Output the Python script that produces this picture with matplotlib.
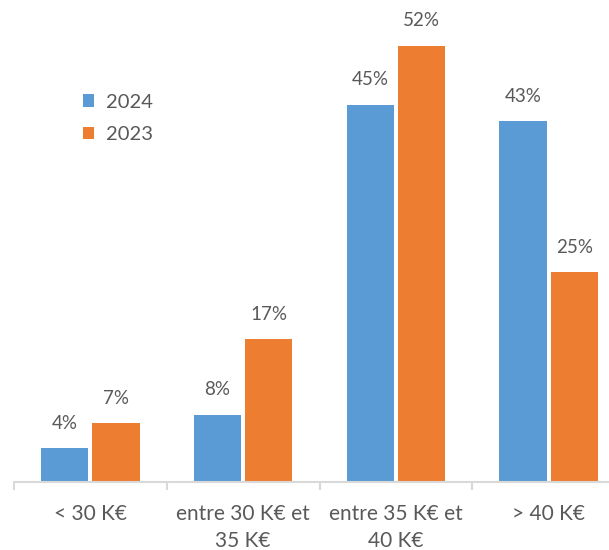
import matplotlib.pyplot as plt
import numpy as np

categories = ["< 30 K€", "entre 30 K€ et\n35 K€", "entre 35 K€ et\n40 K€", "> 40 K€"]
series_names = ["2024", "2023"]
values_2024 = [4, 8, 45, 43]
values_2023 = [7, 17, 52, 25]

plt.rcParams['font.family'] = ['Lato', 'DejaVu Sans']
text_color = "#595959"
colors = ["#5B9BD5", "#ED7D31"]

fig = plt.figure(figsize=(6.09, 5.5), dpi=100)
# axis extends a bit past the right edge like the original screenshot
ax = fig.add_axes([14/609, 68/550, 611/609, 462/550])

x = np.arange(len(categories))
w = 0.31
gap = 0.013
for i, (vals, name) in enumerate(zip([values_2024, values_2023], series_names)):
    offs = -(w/2 + gap) if i == 0 else (w/2 + gap)
    bars = ax.bar(x + offs, vals, w, color=colors[i], label=name)
    for b, v in zip(bars, vals):
        ax.annotate(f"{v}%", (b.get_x() + b.get_width()/2, v), xytext=(0, 12),
                    textcoords="offset points", ha="center", va="bottom",
                    fontsize=13.5, color=text_color)

ax.set_xlim(-0.5, len(categories) - 0.5)
ax.set_ylim(0, 55.1)
ax.set_yticks([])
for s in ["top", "right", "left"]:
    ax.spines[s].set_visible(False)
ax.spines["bottom"].set_color("#D9D9D9")
ax.spines["bottom"].set_linewidth(1.5)

ax.set_xticks(x)
ax.set_xticklabels(categories, fontsize=15, color=text_color, linespacing=1.42)
ax.tick_params(axis="x", which="major", length=0, pad=16)
ax.set_xticks(np.arange(-0.5, len(categories)), minor=True)
ax.tick_params(axis="x", which="minor", length=6, width=1.5, color="#D9D9D9")

leg = ax.legend(loc="upper left", bbox_to_anchor=(0.083, 0.88), frameon=False,
                fontsize=14.5, handlelength=0.55, handleheight=0.55, handletextpad=0.6,
                labelspacing=0.78, labelcolor=text_color)

fig.savefig("out.png", dpi=100)
